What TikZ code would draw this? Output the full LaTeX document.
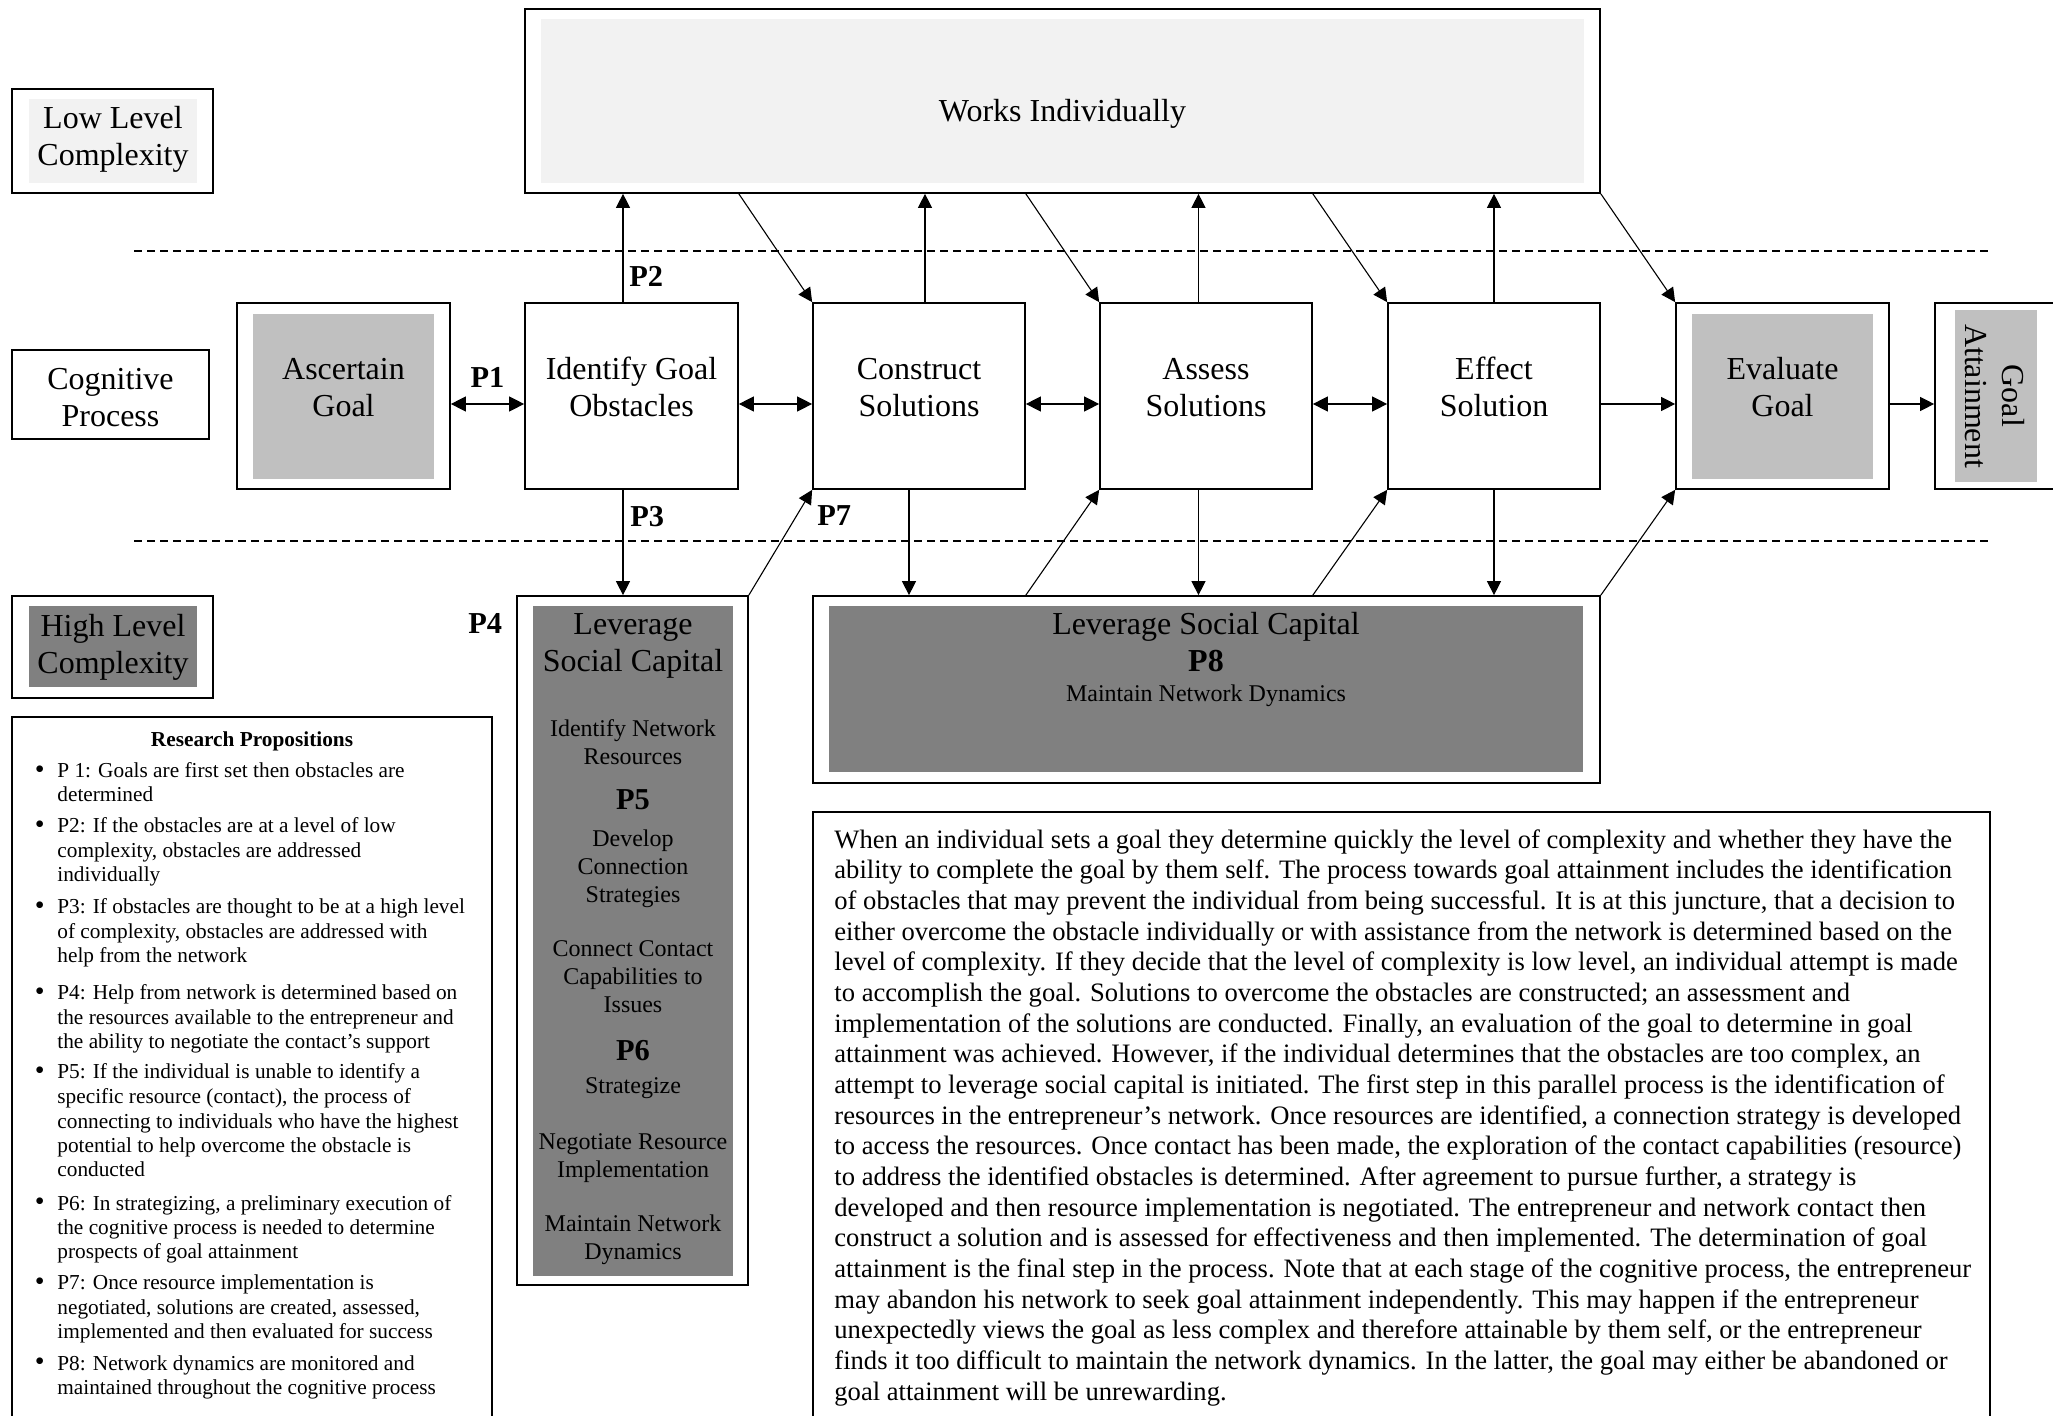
\documentclass[tikz,border=0pt]{standalone}
\usepackage{fontspec}
\setmainfont{Liberation Serif}
\usetikzlibrary{arrows.meta,calc}
\definecolor{lightfill}{HTML}{F2F2F2}
\definecolor{midfill}{HTML}{C0C0C0}
\definecolor{darkfill}{HTML}{808080}
\tikzset{
  outerbox/.style={draw=black, line width=0.85pt, fill=white, inner sep=0pt},
  innerbox/.style={draw=none, inner sep=0pt},
  plainbox/.style={draw=black, line width=0.85pt, fill=white, inner sep=0pt},
  lbl/.style={font=\fontsize{16}{18.5}\selectfont, align=center, inner sep=0pt, anchor=base},
  sml/.style={font=\fontsize{12}{14}\selectfont, align=center, inner sep=0pt, anchor=base},
  plbl/.style={font=\fontsize{15.2}{18}\selectfont\bfseries, inner sep=0pt, anchor=base},
  arr/.style={line width=0.55pt, -{Triangle[length=7pt,width=7pt]}},
  darr/.style={line width=0.6pt, {Triangle[length=7.5pt,width=7.5pt]}-{Triangle[length=7.5pt,width=7.5pt]}},
  sepline/.style={line width=0.6pt, dash pattern=on 4pt off 2.5pt},
  propitem/.style={font=\fontsize{10.65}{12.25}\selectfont, align=left, inner sep=0pt, anchor=base west},
}
\newcommand{\bul}{\llap{\raisebox{-0.4pt}{\fontsize{14}{12}\selectfont\textbullet}\hspace{6.4pt}}}
\begin{document}
\begin{tikzpicture}[x=0.5pt,y=-0.5pt]
\useasboundingbox (0,0) rectangle (2053,1416);
\clip (0,0) rectangle (2053,1416);

% dashed separators
\coordinate (d1a) at (134,251); \coordinate (d1b) at (1991,251);
\coordinate (d2a) at (134,541); \coordinate (d2b) at (1991,541);
\draw[sepline] (d1a) -- (d1b);
\draw[sepline] (d2a) -- (d2b);

% left legend boxes (multi-line texts are anchored at the baseline of their last line)
\node[outerbox, minimum width=100.5pt, minimum height=52pt] (low) at (112.5,141) {};
\node[innerbox, fill=lightfill, minimum width=84pt, minimum height=42pt] (lowin) at (113,141) {};
\node[lbl] (lowt) at (113,166) {Low Level\\Complexity};

\node[plainbox, minimum width=98.5pt, minimum height=44.5pt] (cog) at (110.5,394.5) {};
\node[lbl] (cogt) at (110.5,426.5) {Cognitive\\Process};

\node[outerbox, minimum width=100.5pt, minimum height=51pt] (high) at (112.5,647) {};
\node[innerbox, fill=darkfill, minimum width=84pt, minimum height=40.5pt] (highin) at (113,646.5) {};
\node[lbl] (hight) at (113,673.5) {High Level\\Complexity};

% works individually
\node[outerbox, minimum width=537.5pt, minimum height=92pt] (works) at (1062.5,101) {};
\node[innerbox, fill=lightfill, minimum width=521.5pt, minimum height=82pt] (worksin) at (1062.5,101) {};
\node[lbl] (workst) at (1062.5,122) {Works Individually};

% cognitive process row
\node[outerbox, minimum width=106.5pt, minimum height=93pt] (asc) at (343.5,396) {};
\node[innerbox, fill=midfill, minimum width=90.5pt, minimum height=82.5pt] (ascin) at (343.5,396.5) {};
\node[lbl] (asct) at (343.5,417) {Ascertain\\Goal};

\node[plainbox, minimum width=106.5pt, minimum height=93pt] (idf) at (631.5,396) {};
\node[lbl] (idft) at (631.5,417) {Identify Goal\\Obstacles};

\node[plainbox, minimum width=106pt, minimum height=93pt] (cons) at (919,396) {};
\node[lbl] (const) at (919,417) {Construct\\Solutions};

\node[plainbox, minimum width=106pt, minimum height=93pt] (ass) at (1206,396) {};
\node[lbl] (asst) at (1206,417) {Assess\\Solutions};

\node[plainbox, minimum width=106pt, minimum height=93pt] (eff) at (1494,396) {};
\node[lbl] (efft) at (1494,417) {Effect\\Solution};

\node[outerbox, minimum width=106.5pt, minimum height=93pt] (evl) at (1782.5,396) {};
\node[innerbox, fill=midfill, minimum width=90.5pt, minimum height=82.5pt] (evlin) at (1782.5,396.5) {};
\node[lbl] (evlt) at (1782.5,417) {Evaluate\\Goal};

\node[outerbox, minimum width=70pt, minimum height=93pt] (goal) at (2005,396) {};
\node[innerbox, fill=midfill, minimum width=41pt, minimum height=86pt] (goalin) at (1996,396) {};
\node[lbl, anchor=center, rotate=-90] (goalt) at (1995,396) {Goal\\Attainment};

% leverage social capital (vertical)
\node[outerbox, minimum width=115.5pt, minimum height=344.5pt] (lev) at (632.5,940.5) {};
\node[innerbox, fill=darkfill, minimum width=100pt, minimum height=335pt] (levin) at (633,941) {};
\node[lbl] (levt) at (633,672) {Leverage\\Social Capital};
\node[sml] (lev1) at (633,765) {Identify Network\\Resources};
\node[plbl] (p5) at (633,810) {P5};
\node[sml] (lev2) at (633,903) {Develop\\Connection\\Strategies};
\node[sml] (lev3) at (633,1013) {Connect Contact\\Capabilities to\\Issues};
\node[plbl] (p6) at (633,1061) {P6};
\node[sml] (lev4) at (633,1094) {Strategize};
\node[sml] (lev5) at (633,1178) {Negotiate Resource\\Implementation};
\node[sml] (lev6) at (633,1260) {Maintain Network\\Dynamics};

% leverage social capital (P8)
\node[outerbox, minimum width=393.5pt, minimum height=93.5pt] (lev8) at (1206.5,689.5) {};
\node[innerbox, fill=darkfill, minimum width=377pt, minimum height=83pt] (lev8in) at (1206,689) {};
\node[lbl] (lev8t) at (1206,635) {Leverage Social Capital};
\node[plbl, font=\fontsize{16}{18}\selectfont\bfseries] (p8) at (1206,672) {P8};
\node[sml] (lev8s) at (1206,702) {Maintain Network Dynamics};

% research propositions
\node[plainbox, minimum width=240pt, minimum height=356.5pt] (rp) at (252,1073.5) {};
\node[font=\fontsize{10.65}{12.25}\selectfont\bfseries, inner sep=0pt, anchor=base] (rpt) at (252,747) {Research Propositions};
\node[propitem] (i1) at (57,802) {\bul P 1: Goals are first set then obstacles are\\determined};
\node[propitem] (i2) at (57,882) {\bul P2: If the obstacles are at a level of low\\complexity, obstacles are addressed\\individually};
\node[propitem] (i3) at (57,963) {\bul P3: If obstacles are thought to be at a high level\\of complexity, obstacles are addressed with\\help from the network};
\node[propitem] (i4) at (57,1049) {\bul P4: Help from network is determined based on\\the resources available to the entrepreneur and\\the ability to negotiate the contact’s support};
\node[propitem] (i5) at (57,1177) {\bul P5: If the individual is unable to identify a\\specific resource (contact), the process of\\connecting to individuals who have the highest\\potential to help overcome the obstacle is\\conducted};
\node[propitem] (i6) at (57,1259) {\bul P6: In strategizing, a preliminary execution of\\the cognitive process is needed to determine\\prospects of goal attainment};
\node[propitem] (i7) at (57,1338.5) {\bul P7: Once resource implementation is\\negotiated, solutions are created, assessed,\\implemented and then evaluated for success};
\node[propitem] (i8) at (57,1394.5) {\bul P8: Network dynamics are monitored and\\maintained throughout the cognitive process};

% paragraph
\node[plainbox, minimum width=588.5pt, minimum height=309pt] (para) at (1401.5,1121) {};
\node[font=\fontsize{13.3}{15.33}\selectfont, align=left, inner sep=0pt, anchor=base west] (parat) at (834,1400) {When an individual sets a goal they determine quickly the level of complexity and whether they have the\\
ability to complete the goal by them self. The process towards goal attainment includes the identification\\
of obstacles that may prevent the individual from being successful. It is at this juncture, that a decision to\\
either overcome the obstacle individually or with assistance from the network is determined based on the\\
level of complexity. If they decide that the level of complexity is low level, an individual attempt is made\\
to accomplish the goal. Solutions to overcome the obstacles are constructed; an assessment and\\
implementation of the solutions are conducted. Finally, an evaluation of the goal to determine in goal\\
attainment was achieved. However, if the individual determines that the obstacles are too complex, an\\
attempt to leverage social capital is initiated. The first step in this parallel process is the identification of\\
resources in the entrepreneur’s network. Once resources are identified, a connection strategy is developed\\
to access the resources. Once contact has been made, the exploration of the contact capabilities (resource)\\
to address the identified obstacles is determined. After agreement to pursue further, a strategy is\\
developed and then resource implementation is negotiated. The entrepreneur and network contact then\\
construct a solution and is assessed for effectiveness and then implemented. The determination of goal\\
attainment is the final step in the process. Note that at each stage of the cognitive process, the entrepreneur\\
may abandon his network to seek goal attainment independently. This may happen if the entrepreneur\\
unexpectedly views the goal as less complex and therefore attainable by them self, or the entrepreneur\\
finds it too difficult to maintain the network dynamics. In the latter, the goal may either be abandoned or\\
goal attainment will be unrewarding.};

% vertical connectors
\coordinate (a2) at ([xshift=-4.25pt]idf.north);
\coordinate (a3) at ([xshift=-4.25pt]idf.south);
\coordinate (cu) at ([xshift=3pt]cons.north);
\coordinate (cd) at ([xshift=-5pt]cons.south);
\coordinate (au) at ([xshift=-3.75pt]ass.north);
\coordinate (ad) at ([xshift=-3.75pt]ass.south);
\coordinate (eu) at (eff.north);
\coordinate (ed) at (eff.south);
\draw[arr] (a2) -- (a2 |- works.south);
\draw[arr] (cu) -- (cu |- works.south);
\draw[arr] (au) -- (au |- works.south);
\draw[arr] (eu) -- (eu |- works.south);
\draw[arr] (a3) -- (a3 |- lev.north);
\draw[arr] (cd) -- (cd |- lev8.north);
\draw[arr] (ad) -- (ad |- lev8.north);
\draw[arr] (ed) -- (ed |- lev8.north);

% diagonal connectors
\draw[arr] (idf.north east |- works.south) -- (cons.north west);
\draw[arr] (cons.north east |- works.south) -- (ass.north west);
\draw[arr] (ass.north east |- works.south) -- (eff.north west);
\draw[arr] (works.south east) -- (evl.north west);
\draw[arr] (lev.north east) -- (cons.south west);
\draw[arr] (cons.south east |- lev8.north) -- (ass.south west);
\draw[arr] (ass.south east |- lev8.north) -- (eff.south west);
\draw[arr] (lev8.north east) -- (evl.south west);

% horizontal connectors
\draw[darr] ([yshift=-4pt]asc.east) -- ([yshift=-4pt]idf.west);
\draw[darr] ([yshift=-4pt]idf.east) -- ([yshift=-4pt]cons.west);
\draw[darr] ([yshift=-4pt]cons.east) -- ([yshift=-4pt]ass.west);
\draw[darr] ([yshift=-4pt]ass.east) -- ([yshift=-4pt]eff.west);
\draw[arr] ([yshift=-4pt]eff.east) -- ([yshift=-4pt]evl.west);
\draw[arr] ([yshift=-4pt]evl.east) -- ([yshift=-4pt]goal.west);

% proposition labels
\node[plbl] (p1) at (487.5,388) {P1};
\node[plbl, anchor=base west] (p2) at (629,287) {P2};
\node[plbl, anchor=base west] (p3) at (630,527) {P3};
\node[plbl, anchor=base west] (p7) at (817,526) {P7};
\node[plbl, anchor=base west] (p4) at (468,634) {P4};
\end{tikzpicture}
\end{document}
